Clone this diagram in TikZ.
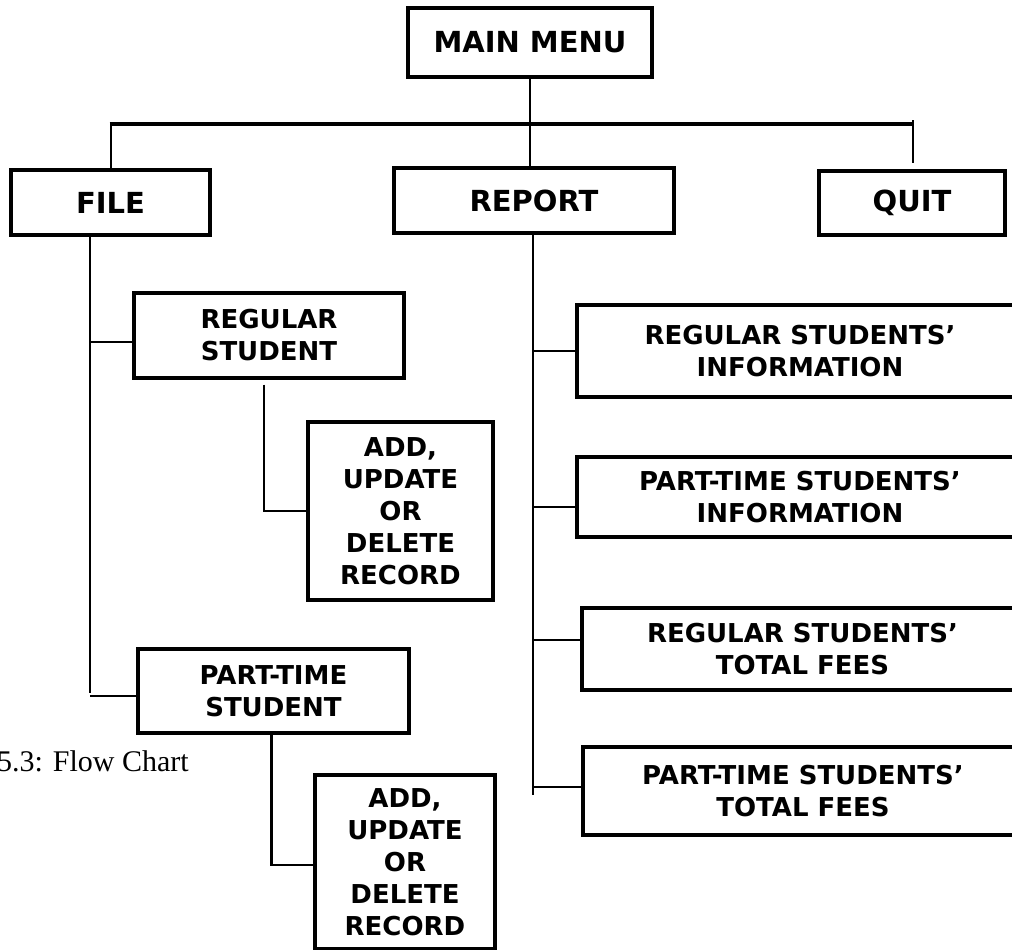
\documentclass[tikz,border=0pt]{standalone}
\usepackage{fontspec}
\setmainfont{DejaVu Sans}
\newfontfamily\captionfont{Liberation Serif}
\usetikzlibrary{positioning,calc}

\begin{document}
\begin{tikzpicture}[x=1pt, y=-1pt]
        % Styles
        \tikzstyle{menu} = [rectangle, draw, line width=3.2pt, align=center, inner sep=0pt, font=\bfseries\fontsize{29}{34}\selectfont]
        \tikzstyle{item} = [rectangle, draw, line width=3.2pt, align=center, inner sep=0pt, font=\bfseries\fontsize{26}{32}\selectfont]
        \tikzstyle{wide} = [item, minimum width=446pt]
        \tikzstyle{line} = [draw, line width=2.9pt]

        \useasboundingbox (0,0) rectangle (1012,950);

        % Nodes
        \node [menu, minimum width=244pt, minimum height=69pt] (mainmenu) at (530,42.5) {MAIN MENU};
        \node [menu, below of=mainmenu, node distance=158pt, xshift=4pt, minimum width=280pt, minimum height=65pt] (report) {REPORT};
        \node [menu, left of=report, node distance=423.5pt, yshift=-2pt, minimum width=199pt, minimum height=65pt] (file) {FILE};
        \node [menu, right of=report, node distance=378pt, yshift=-2.5pt, minimum width=186pt, minimum height=64pt] (quit) {QUIT};

        \node [item, below of=file, node distance=133pt, xshift=158.5pt, minimum width=270pt, minimum height=85pt] (regstud) {REGULAR\\STUDENT};
        \node [item, below of=regstud, node distance=175.5pt, xshift=131.5pt, minimum width=185pt, minimum height=178pt] (regedit) {ADD,\\UPDATE\\OR\\DELETE\\RECORD};
        \node [item, below of=regstud, node distance=355.5pt, xshift=4.5pt, minimum width=271pt, minimum height=84pt] (ptstud) {PART-TIME\\STUDENT};
        \node [item, below of=ptstud, node distance=171pt, xshift=131.5pt, minimum width=180pt, minimum height=174pt] (ptedit) {ADD,\\UPDATE\\OR\\DELETE\\RECORD};

        \node [wide, below of=report, node distance=150.5pt, xshift=266pt, minimum height=92pt] (reginfo) {REGULAR STUDENTS’\\INFORMATION};
        \node [wide, below of=reginfo, node distance=146pt, minimum height=80pt] (ptinfo) {PART-TIME STUDENTS’\\INFORMATION};
        \node [wide, below of=ptinfo, node distance=152pt, xshift=2.5pt, minimum width=441pt, minimum height=82pt] (regfees) {REGULAR STUDENTS’\\TOTAL FEES};
        \node [wide, below of=regfees, node distance=142pt, xshift=0.5pt, minimum width=440pt, minimum height=88pt] (ptfees) {PART-TIME STUDENTS’\\TOTAL FEES};

        \node [anchor=base east, inner sep=0pt, font=\captionfont\fontsize{30}{36}\selectfont] (caption) at (189,771) {5.3: Flow Chart};

        % Edges
        \coordinate (barleft) at (111,124);
        \coordinate (barright) at (913,124);
        \coordinate (ftrunk) at (90,235);
        \path [line] (mainmenu.south) -- (mainmenu.south |- barleft);
        \path [line, line width=3.6pt] ([xshift=-1.5pt]barleft) -- (barright);
        \path [line] (barleft) -- (barleft |- file.north);
        \path [line] (mainmenu.south |- barleft) -- (mainmenu.south |- report.north);
        \path [line] ([yshift=4pt]barright) -- ([yshift=6pt]barright |- quit.north);

        \path [line] (ftrunk) -- ([yshift=-2pt]ftrunk |- ptstud.west);
        \path [line] ([yshift=-6.5pt]ftrunk |- regstud.west) -- ([yshift=-6.5pt]regstud.west);
        \path [line] ([yshift=-5pt]ftrunk |- ptstud.west) -- ([yshift=-5pt]ptstud.west);
        \path [line] ([xshift=-5pt, yshift=-5pt]regstud.south) |- (regedit.west);
        \path [line] ([xshift=-2pt]ptstud.south) |- ([yshift=-3pt]ptedit.west);

        \path [line] ([xshift=-1pt]report.south) -- ([xshift=-1pt, yshift=-4pt]report.south |- ptfees.west);
        \path [line] ([xshift=-1pt]report.south |- reginfo.west) -- (reginfo.west);
        \path [line] ([xshift=-1pt, yshift=-10pt]report.south |- ptinfo.west) -- ([yshift=-10pt]ptinfo.west);
        \path [line] ([xshift=-1pt, yshift=9pt]report.south |- regfees.west) -- ([yshift=9pt]regfees.west);
        \path [line] ([xshift=-1pt, yshift=4pt]report.south |- ptfees.west) -- ([yshift=4pt]ptfees.west);

    \end{tikzpicture}
\end{document}
